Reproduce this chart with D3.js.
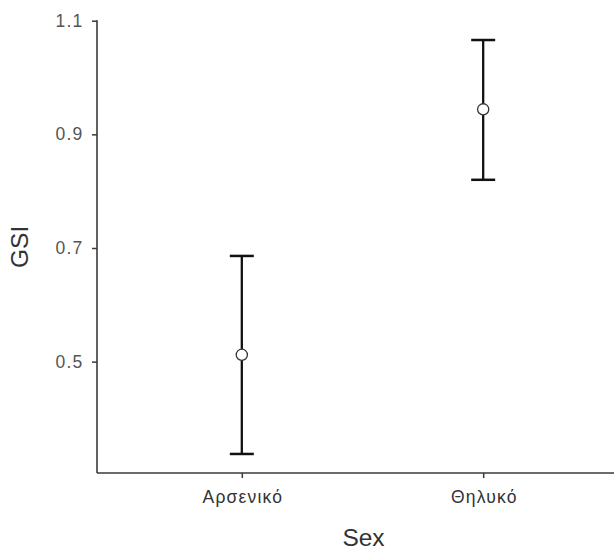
<!DOCTYPE html>
<html>
<head>
<meta charset="utf-8">
<script src="https://cdn.jsdelivr.net/npm/d3@7"></script>
<style>
  body { margin: 0; background: #fff; }
  svg { display: block; font-family: "Liberation Sans", Arial, sans-serif; }
</style>
</head>
<body>
<svg id="chart" width="614" height="552"></svg>
<script>
// Mean GSI per sex with error bars
const categories = ["Αρσενικό", "Θηλυκό"];
const means = [0.512, 0.944];
const lowers = [0.3375, 0.820];
const uppers = [0.686, 1.066];
const yTicks = [0.5, 0.7, 0.9, 1.1];

const svg = d3.select("#chart");
const plotLeft = 97, plotBottom = 473, plotTop = 20.7;

const x = d3.scalePoint().domain(categories).range([plotLeft, 628]).padding(0.6);
const y = d3.scaleLinear().domain([0.304, 1.1]).range([plotBottom, plotTop]);

const axisColor = "#3a3a3a";
const tickFont = 17.5, tickSpacing = 1.2;

// y axis
const yAxis = svg.append("g")
  .attr("transform", `translate(${plotLeft},0)`)
  .call(d3.axisLeft(y).tickValues(yTicks).tickFormat(d3.format(".1f"))
    .tickSizeOuter(0).tickSize(5).tickPadding(8.5));
yAxis.attr("font-family", null);
yAxis.select(".domain").attr("stroke", axisColor).attr("stroke-width", 1.6)
  .attr("d", `M0,${y(1.1) - 0.5}V${plotBottom}`);
yAxis.selectAll(".tick line").attr("stroke", axisColor).attr("stroke-width", 1.5);
yAxis.selectAll(".tick text")
  .attr("fill", "#555").attr("font-size", tickFont)
  .attr("letter-spacing", tickSpacing);

// x axis
const xAxis = svg.append("g")
  .attr("transform", `translate(0,${plotBottom})`)
  .call(d3.axisBottom(x).tickSizeOuter(0).tickSize(5).tickPadding(13));
xAxis.attr("font-family", null);
xAxis.select(".domain").attr("stroke", axisColor).attr("stroke-width", 1.6)
  .attr("d", `M${plotLeft},0H614`);
xAxis.selectAll(".tick line").attr("stroke", axisColor).attr("stroke-width", 1.5);
xAxis.selectAll(".tick text")
  .attr("fill", "#333").attr("font-size", tickFont)
  .attr("letter-spacing", tickSpacing)
  .attr("dx", tickSpacing / 2);

// axis titles
svg.append("text")
  .attr("x", (x(categories[0]) + x(categories[1])) / 2 + 1)
  .attr("y", 546)
  .attr("text-anchor", "middle")
  .attr("font-size", 24.5)
  .attr("fill", "#333")
  .text("Sex");

svg.append("text")
  .attr("transform", `translate(28,${(plotTop + plotBottom) / 2}) rotate(-90)`)
  .attr("text-anchor", "middle")
  .attr("font-size", 24.5)
  .attr("fill", "#333")
  .text("GSI");

// error bars
const data = categories.map((c, i) => ({ c, m: means[i], lo: lowers[i], hi: uppers[i] }));
const cap = 12;
const g = svg.append("g");
data.forEach(d => {
  const cx = x(d.c);
  g.append("line").attr("x1", cx).attr("x2", cx).attr("y1", y(d.hi)).attr("y2", y(d.lo))
    .attr("stroke", "#111").attr("stroke-width", 2.3);
  [d.hi, d.lo].forEach(v => {
    g.append("line").attr("x1", cx - cap).attr("x2", cx + cap).attr("y1", y(v)).attr("y2", y(v))
      .attr("stroke", "#111").attr("stroke-width", 2.5);
  });
  g.append("circle").attr("cx", cx).attr("cy", y(d.m)).attr("r", 5.6)
    .attr("fill", "#fff").attr("stroke", "#333").attr("stroke-width", 1.3);
});
</script>
</body>
</html>
